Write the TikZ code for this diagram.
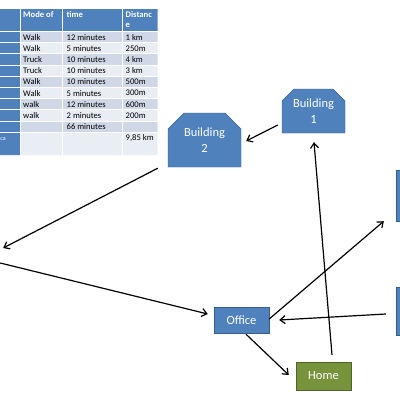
\documentclass[tikz,border=0pt]{standalone}
\usepackage{fontspec}
\setmainfont{Carlito}
\usetikzlibrary{arrows.meta,shapes.misc}
\definecolor{boxblue}{RGB}{79,129,189}
\definecolor{boxedge}{RGB}{56,93,138}
\definecolor{homegreen}{RGB}{119,147,60}
\definecolor{homeedge}{RGB}{80,98,40}
\definecolor{rowdark}{RGB}{208,216,232}
\definecolor{rowlight}{RGB}{233,237,244}

\begin{document}
\begin{tikzpicture}[x=1pt,y=-1pt, >={Straight Barb[length=5pt,width=8pt]},
  every node/.style={font=\fontsize{8.6}{10.5}\selectfont},
  cell/.style={anchor=west, inner sep=0pt},
  head/.style={anchor=north west, inner sep=0pt, text=white, align=left, font=\fontsize{8.6}{10.5}\selectfont\bfseries},
  place/.style={draw=boxedge, fill=boxblue, text=white, inner sep=0pt, align=center, font=\fontsize{12.5}{15.5}\selectfont},
  bldg/.style={place, chamfered rectangle, chamfered rectangle corners={north west,north east}, chamfered rectangle xsep=#1, chamfered rectangle ysep=#1},
  route/.style={->, line width=1.2pt}]
  \useasboundingbox (0,0) rectangle (400,400);
  \clip (0,0) rectangle (400,400);
  \fill[boxblue] (-30,9) rectangle (157.5,31.5) (-30,31.5) rectangle (20.5,155);
  \fill[rowdark] (20.5,31.5) rectangle (157.5,42.7) (20.5,53.9) rectangle (157.5,65.1) (20.5,76.3) rectangle (157.5,87.5) (20.5,98.7) rectangle (157.5,109.9) (20.5,121.1) rectangle (157.5,132.3);
  \fill[rowlight] (20.5,42.7) rectangle (157.5,53.9) (20.5,65.1) rectangle (157.5,76.3) (20.5,87.5) rectangle (157.5,98.7) (20.5,109.9) rectangle (157.5,121.1) (20.5,132.3) rectangle (157.5,155);
  \draw[white,line width=1pt] (20.5,9)--(20.5,155) (62,9)--(62,155) (122.5,9)--(122.5,155);
  \draw[white,line width=1pt] (-30,31.5)--(157.5,31.5) (-30,42.7)--(157.5,42.7) (-30,53.9)--(157.5,53.9) (-30,65.1)--(157.5,65.1) (-30,76.3)--(157.5,76.3) (-30,87.5)--(157.5,87.5) (-30,98.7)--(157.5,98.7) (-30,109.9)--(157.5,109.9) (-30,121.1)--(157.5,121.1) (-30,132.3)--(157.5,132.3);
  \node[head] (hmode) at (23,11) {Mode of}; \node[head] (htime) at (66.5,11) {time}; \node[head] (hdist) at (125.5,11) {Distanc\\e};
  \node[cell] (m1) at (23,37.1) {Walk};  \node[cell] (t1) at (66.5,37.1) {12 minutes}; \node[cell] (d1) at (125.5,37.1) {1 km};
  \node[cell] (m2) at (23,48.3) {Walk};  \node[cell] (t2) at (66.5,48.3) {5 minutes};  \node[cell] (d2) at (125.5,48.3) {250m};
  \node[cell] (m3) at (23,59.5) {Truck}; \node[cell] (t3) at (66.5,59.5) {10 minutes}; \node[cell] (d3) at (125.5,59.5) {4 km};
  \node[cell] (m4) at (23,70.7) {Truck}; \node[cell] (t4) at (66.5,70.7) {10 minutes}; \node[cell] (d4) at (125.5,70.7) {3 km};
  \node[cell] (m5) at (23,81.9) {Walk};  \node[cell] (t5) at (66.5,81.9) {10 minutes}; \node[cell] (d5) at (125.5,81.9) {500m};
  \node[cell] (m6) at (23,93.1) {Walk};  \node[cell] (t6) at (66.5,93.1) {5 minutes};  \node[cell] (d6) at (125.5,93.1) {300m};
  \node[cell] (m7) at (23,104.3) {walk}; \node[cell] (t7) at (66.5,104.3) {12 minutes}; \node[cell] (d7) at (125.5,104.3) {600m};
  \node[cell] (m8) at (23,115.5) {walk}; \node[cell] (t8) at (66.5,115.5) {2 minutes};  \node[cell] (d8) at (125.5,115.5) {200m};
  \node[cell] (t9) at (66.5,126.7) {66 minutes};
  \node[cell] (d10) at (125.5,138) {9,85 km};
  \node[cell, anchor=east, text=white, font=\fontsize{6}{7}\selectfont] (rest) at (6,139) {ca};
  \node[bldg=6pt, minimum width=63pt, minimum height=44pt] (b1) at (313.5,111) {Building\\1};
  \node[bldg=8pt, minimum width=73pt, minimum height=54pt] (b2) at (204.5,140) {Building\\2};
  \node[bldg=7pt, minimum width=70pt, minimum height=51pt] (b3) at (431,195.5) {};
  \node[bldg=7pt, minimum width=70pt, minimum height=48pt] (b4) at (431,311) {};
  \node[bldg=7pt, minimum width=60pt, minimum height=50pt] (b5) at (-34,255) {};
  \node[place, minimum width=55pt, minimum height=26pt] (office) at (241.5,320) {Office};
  \node[place, fill=homegreen, draw=homeedge, minimum width=55pt, minimum height=28pt] (home) at (323.5,376) {Home};
  \draw[route] ([shift={(-4,14)}]b1.west) -- ([shift={(5,1)}]b2.east);
  \draw[route] ([shift={(-10,1)}]b2.south west) -- ([shift={(7,-7)}]b5.east);
  \draw[route] ([shift={(4,8)}]b5.east) -- ([shift={(-6,-6)}]office.west);
  \draw[route] ([shift={(0,-1)}]office.east) -- ([shift={(-12,0)}]b3.south west);
  \draw[route] ([shift={(-10,3)}]b4.west) -- ([shift={(10,0)}]office.east);
  \draw[route] ([shift={(4.5,1)}]office.south) -- ([shift={(-7,-1)}]home.west);
  \draw[route] ([shift={(8.5,-7)}]home.north) -- ([shift={(0.5,9)}]b1.south);
\end{tikzpicture}
\end{document}
